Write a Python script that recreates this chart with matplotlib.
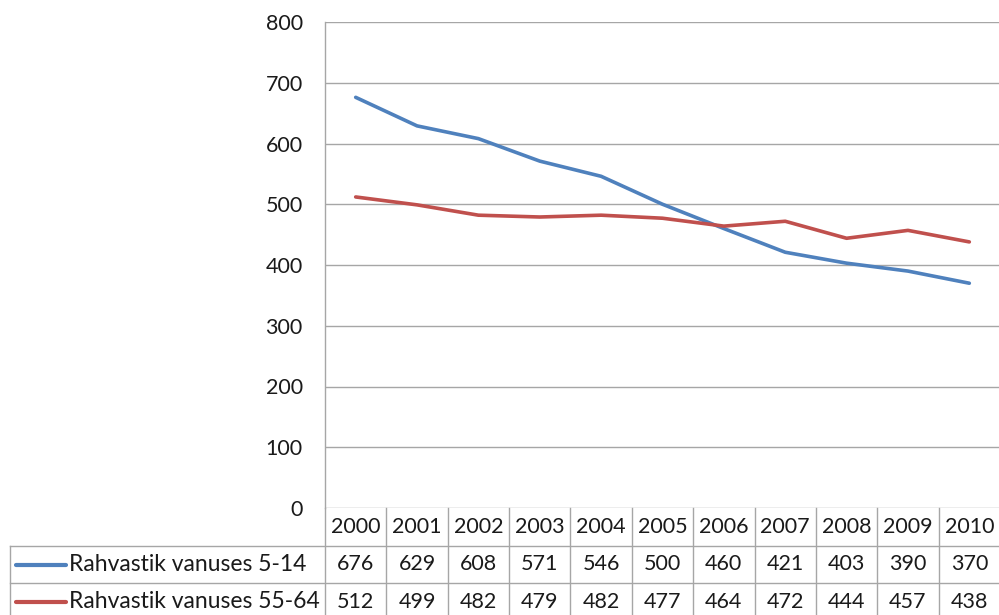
import matplotlib.pyplot as plt
from matplotlib.transforms import blended_transform_factory

years = [2000, 2001, 2002, 2003, 2004, 2005, 2006, 2007, 2008, 2009, 2010]
age_5_14 = [676, 629, 608, 571, 546, 500, 460, 421, 403, 390, 370]
age_55_64 = [512, 499, 482, 479, 482, 477, 464, 472, 444, 457, 438]
series_names = ['Rahvastik vanuses 5-14', 'Rahvastik vanuses 55-64']
y_ticks = [0, 100, 200, 300, 400, 500, 600, 700, 800]

BLUE = '#4F81BD'
RED = '#C0504D'
GRID = '#A6A6A6'
TEXT = '#1A1A1A'

plt.rcParams['font.family'] = ['Lato', 'DejaVu Sans']

W, H = 999, 615
fig = plt.figure(figsize=(W / 100, H / 100), dpi=100)


def fx(px):
    return px / W


def fy(py):
    return 1 - py / H


# plot area: left axis at x=325, y=800 at 22, y=0 at 508
ax = fig.add_axes([fx(325), fy(508), fx(1000) - fx(325), fy(22) - fy(508)])
x = list(range(len(years)))
ax.plot(x, age_5_14, color=BLUE, lw=2.6, solid_capstyle='round')
ax.plot(x, age_55_64, color=RED, lw=2.6, solid_capstyle='round')

ax.set_xlim(-0.5, len(years) - 0.5)
ax.set_ylim(0, 800)
ax.set_yticks(y_ticks)
ax.set_yticklabels([str(v) for v in y_ticks], fontsize=15.5, color=TEXT)
ax.tick_params(axis='y', length=0, pad=16)
ax.set_xticks([])
ax.grid(axis='y', color=GRID, lw=1)
ax.set_axisbelow(True)
for side in ['top', 'right', 'bottom']:
    ax.spines[side].set_visible(False)
ax.spines['left'].set_color(GRID)
ax.spines['left'].set_linewidth(1)

# data table under the plot
bt = blended_transform_factory(ax.transData, fig.transFigure)
row_lines = [546, 583]
row_centers = [527, 564.5, 601.5]

for k in range(len(years) + 1):
    ax.plot([k - 0.5, k - 0.5], [fy(508), fy(H + 5)], transform=bt,
            color=GRID, lw=1, clip_on=False)
for py in row_lines:
    fig.add_artist(plt.Line2D([fx(10), 1], [fy(py), fy(py)], color=GRID, lw=1))
fig.add_artist(plt.Line2D([fx(10), fx(10)], [fy(546), fy(H + 5)], color=GRID, lw=1))

for i, yr in enumerate(years):
    ax.text(i, fy(row_centers[0]), str(yr), transform=bt, ha='center',
            va='center', fontsize=15.5, color=TEXT, clip_on=False)
    ax.text(i, fy(row_centers[1]), str(age_5_14[i]), transform=bt, ha='center',
            va='center', fontsize=15.5, color=TEXT, clip_on=False)
    ax.text(i, fy(row_centers[2]), str(age_55_64[i]), transform=bt, ha='center',
            va='center', fontsize=15.5, color=TEXT, clip_on=False)

# legend keys in the table rows
for name, color, cy in zip(series_names, [BLUE, RED], row_centers[1:]):
    fig.add_artist(plt.Line2D([fx(16), fx(66)], [fy(cy), fy(cy)], color=color,
                              lw=3, solid_capstyle='round'))
    fig.text(fx(69), fy(cy), name, ha='left', va='center', fontsize=16.5, color=TEXT)

fig.savefig('out.png', dpi=100)
